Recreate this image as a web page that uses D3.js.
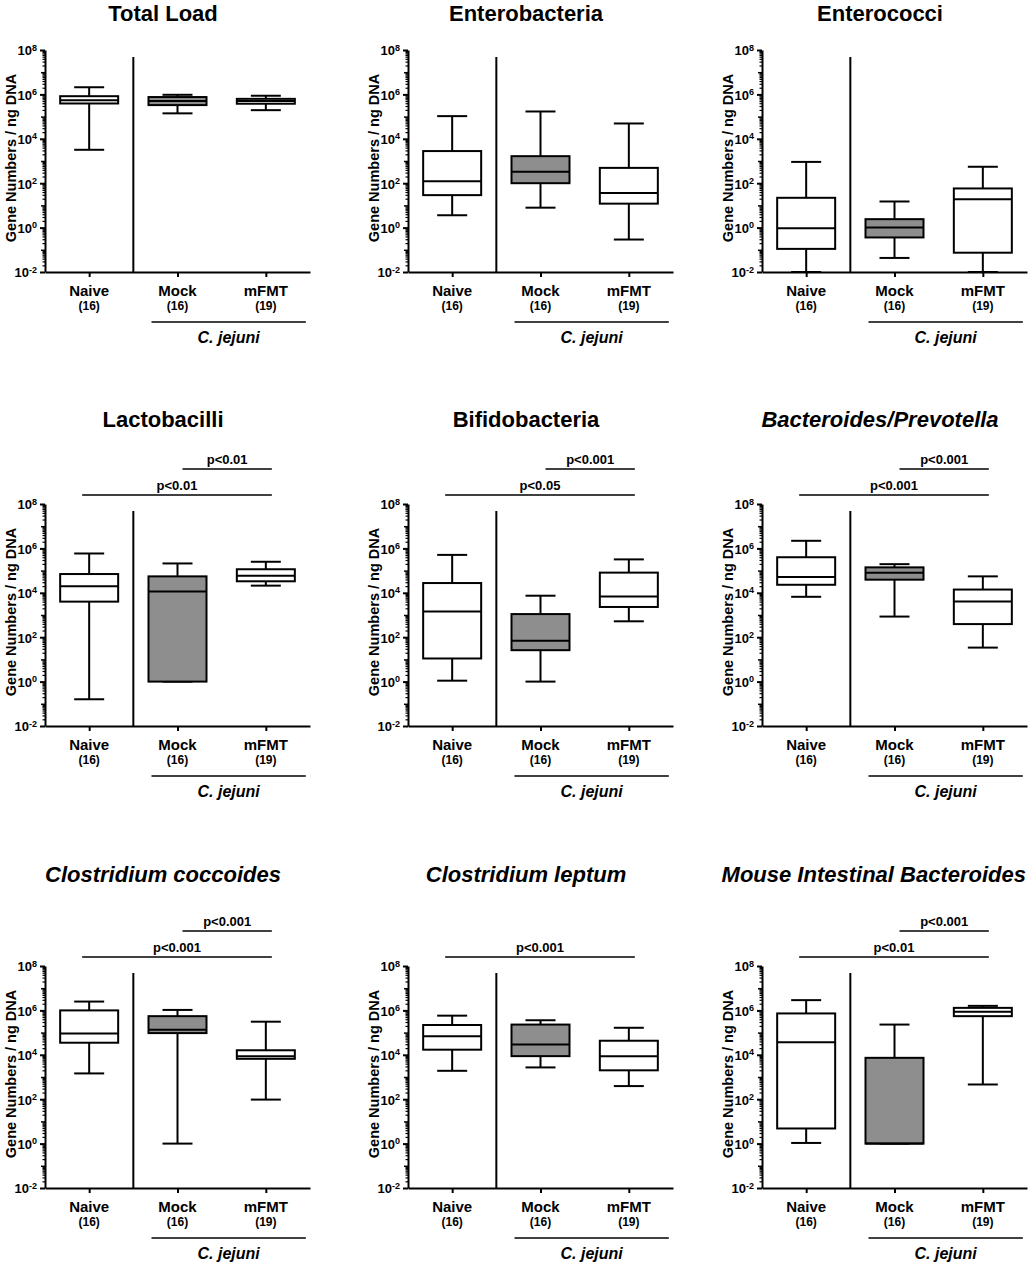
<!DOCTYPE html>
<html>
<head>
<meta charset="utf-8">
<script src="https://cdn.jsdelivr.net/npm/d3@7"></script>
<style>
  body { margin: 0; background: #fff; }
  text { font-family: "Liberation Sans", Arial, sans-serif; font-weight: bold; fill: #000; }
</style>
</head>
<body>
<div id="chart"></div>
<script>
// groups on the x axis
const groups = ["Naive", "Mock", "mFMT"];
const groupN = ["(16)", "(16)", "(19)"];

// panel titles, row by row
const titles = ["Total Load", "Enterobacteria", "Enterococci",
  "Lactobacilli", "Bifidobacteria", "Bacteroides/Prevotella",
  "Clostridium coccoides", "Clostridium leptum", "Mouse Intestinal Bacteroides"];
const italicTitles = [false, false, false, false, false, true, true, true, true];

// box stats per group: [min, q1, median, q3, max]
const totalLoad = [[3.2e3, 3.9e5, 5.5e5, 8.3e5, 2.1e6], [1.4e5, 3.3e5, 5.1e5, 7.6e5, 9.6e5], [1.95e5, 3.8e5, 5.0e5, 6.3e5, 8.7e5]];
const enterobacteria = [[3.6, 29, 123, 2.8e3, 1.05e5], [7.9, 100, 324, 1.65e3, 1.7e5], [0.29, 12, 36, 490, 4.9e4]];
const enterococci = [[0.01, 0.11, 0.93, 22, 910], [0.043, 0.36, 1.0, 2.4, 15], [0.01, 0.074, 19, 58, 550]];
const lactobacilli = [[0.16, 4.0e3, 1.95e4, 7.0e4, 5.9e5], [1, 1, 1.15e4, 5.5e4, 2.1e5], [2.1e4, 3.3e4, 5.9e4, 1.15e5, 2.5e5]];
const bifidobacteria = [[1.1, 11, 1.45e3, 2.75e4, 5.1e5], [1, 26, 70, 1.1e3, 7.4e3], [520, 2.3e3, 6.9e3, 8.1e4, 3.2e5]];
const bacteroidesPrevotella = [[6.6e3, 2.3e4, 5.1e4, 4.0e5, 2.2e6], [850, 3.9e4, 8.1e4, 1.4e5, 1.95e5], [34, 390, 4.1e3, 1.4e4, 5.5e4]];
const clostridiumCoccoides = [[1.45e3, 3.5e4, 9.1e4, 1.0e6, 2.5e6], [1, 9.5e4, 1.35e5, 5.5e5, 1.05e6], [96, 6.6e3, 8.7e3, 1.6e4, 3.1e5]];
const clostridiumLeptum = [[1.9e3, 1.7e4, 6.9e4, 2.2e5, 5.8e5], [2.7e3, 8.7e3, 2.9e4, 2.3e5, 3.6e5], [390, 2.0e3, 8.7e3, 4.3e4, 1.65e5]];
const mouseIntestinalBacteroides = [[1.07, 4.8, 3.7e4, 7.3e5, 2.9e6], [1, 1, 1, 7.3e3, 2.3e5], [460, 5.5e5, 8.7e5, 1.3e6, 1.6e6]];

const panelData = [totalLoad, enterobacteria, enterococci, lactobacilli, bifidobacteria,
  bacteroidesPrevotella, clostridiumCoccoides, clostridiumLeptum, mouseIntestinalBacteroides];

// significance bars per panel: [from, to, label, level]
const sigBars = [
  [], [], [],
  [["Mock", "mFMT", "p<0.01", 2], ["Naive", "mFMT", "p<0.01", 1]],
  [["Mock", "mFMT", "p<0.001", 2], ["Naive", "mFMT", "p<0.05", 1]],
  [["Mock", "mFMT", "p<0.001", 2], ["Naive", "mFMT", "p<0.001", 1]],
  [["Mock", "mFMT", "p<0.001", 2], ["Naive", "mFMT", "p<0.001", 1]],
  [["Naive", "mFMT", "p<0.001", 1]],
  [["Mock", "mFMT", "p<0.001", 2], ["Naive", "mFMT", "p<0.01", 1]]
];

const majorTicks = [1e-2, 1, 1e2, 1e4, 1e6, 1e8];

// layout
const width = 1030, height = 1266;
const colX = [45, 408, 762];
const rowTop = [50, 504, 966];
const titleBase = [21, 427, 882];
const plotW = 265, plotH = 222;
const boxW = 58, capW = 30;

const svg = d3.select("#chart").append("svg")
  .attr("width", width).attr("height", height)
  .style("background", "#fff");

const x = d3.scalePoint().domain(groups).range([0, plotW]).padding(0.5);
const y = d3.scaleLog().domain([1e-2, 1e8]).range([plotH, 0]).clamp(true);

// minor ticks 2..9 per decade
const minorTicks = [];
const oddTicks = [];
for (let e = -2; e < 8; e++) {
  for (let m = 2; m <= 9; m++) minorTicks.push(m * Math.pow(10, e));
  if (e % 2 !== 0) oddTicks.push(Math.pow(10, e));
}

function drawPanel(i) {
  const row = Math.floor(i / 3), col = i % 3;
  const g = svg.append("g").attr("transform", `translate(${colX[col]},${rowTop[row]})`);
  const data = panelData[i];

  // title, kept inside the page
  const title = svg.append("text")
    .attr("x", colX[col] + 118).attr("y", titleBase[row])
    .attr("text-anchor", "middle")
    .style("font-size", "22px")
    .style("font-style", italicTitles[i] ? "italic" : "normal")
    .text(titles[i]);
  const tw = title.node().getComputedTextLength();
  if (colX[col] + 118 + tw / 2 > width - 4) title.attr("x", width - 4 - tw / 2);

  // y axis: minor, odd decades, major
  g.append("g").call(d3.axisLeft(y).tickValues(minorTicks).tickSize(2.5).tickFormat(""))
    .call(a => a.select(".domain").remove())
    .selectAll("line").attr("stroke-width", 1.2);
  g.append("g").call(d3.axisLeft(y).tickValues(oddTicks).tickSize(4).tickFormat(""))
    .call(a => a.select(".domain").remove())
    .selectAll("line").attr("stroke-width", 1.5);
  const yAx = g.append("g")
    .call(d3.axisLeft(y).tickValues(majorTicks).tickSize(5).tickSizeOuter(0).tickPadding(3).tickFormat(""));
  yAx.select(".domain").attr("stroke-width", 2);
  yAx.selectAll("line").attr("stroke-width", 2);
  yAx.selectAll("text").each(function (d) {
    const t = d3.select(this).style("font-size", "13px").attr("dy", "0.38em");
    t.append("tspan").text("10");
    t.append("tspan").attr("dy", "-0.55em").style("font-size", "9px")
      .text(Math.round(Math.log10(d)));
  });

  // y label
  g.append("text")
    .attr("transform", `translate(-29,${plotH / 2 - 3}) rotate(-90)`)
    .attr("text-anchor", "middle")
    .style("font-size", "14.5px")
    .text("Gene Numbers / ng DNA");

  // x axis
  const xAx = g.append("g").attr("transform", `translate(0,${plotH})`)
    .call(d3.axisBottom(x).tickSize(5).tickSizeOuter(0).tickFormat(""));
  xAx.select(".domain").attr("stroke-width", 2);
  xAx.selectAll("line").attr("stroke-width", 2);

  // group labels
  g.selectAll(".glabel").data(groups).join("text")
    .attr("x", d => x(d)).attr("y", plotH + 24)
    .attr("text-anchor", "middle").style("font-size", "15px")
    .text(d => d);
  g.selectAll(".nlabel").data(groupN).join("text")
    .attr("x", (d, k) => x(groups[k])).attr("y", plotH + 38)
    .attr("text-anchor", "middle").style("font-size", "12px")
    .text(d => d);

  // separator between naive and infected
  const sepX = (x("Naive") + x("Mock")) / 2;
  g.append("line")
    .attr("x1", sepX).attr("x2", sepX)
    .attr("y1", 7).attr("y2", plotH)
    .attr("stroke", "#000").attr("stroke-width", 2);

  // C. jejuni bracket
  g.append("line")
    .attr("x1", x("Mock") - 26).attr("x2", x("mFMT") + 40)
    .attr("y1", plotH + 50).attr("y2", plotH + 50)
    .attr("stroke", "#000").attr("stroke-width", 1.5);
  g.append("text")
    .attr("x", (x("Mock") - 26 + x("mFMT") + 40) / 2).attr("y", plotH + 71)
    .attr("text-anchor", "middle").style("font-size", "16px").style("font-style", "italic")
    .text("C. jejuni");

  // boxes
  const boxes = g.selectAll(".box").data(data).join("g")
    .attr("transform", (d, k) => `translate(${x(groups[k])},0)`);
  boxes.append("line")
    .attr("y1", d => y(d[4])).attr("y2", d => y(d[3]))
    .attr("stroke", "#000").attr("stroke-width", 2);
  boxes.append("line")
    .attr("y1", d => y(d[1])).attr("y2", d => y(d[0]))
    .attr("stroke", "#000").attr("stroke-width", 2);
  boxes.append("line")
    .attr("x1", -capW / 2).attr("x2", capW / 2)
    .attr("y1", d => y(d[4])).attr("y2", d => y(d[4]))
    .attr("stroke", "#000").attr("stroke-width", 2);
  boxes.append("line")
    .attr("x1", -capW / 2).attr("x2", capW / 2)
    .attr("y1", d => y(d[0])).attr("y2", d => y(d[0]))
    .attr("stroke", "#000").attr("stroke-width", 2);
  boxes.append("rect")
    .attr("x", -boxW / 2).attr("width", boxW)
    .attr("y", d => y(d[3])).attr("height", d => Math.max(0, y(d[1]) - y(d[3])))
    .attr("fill", (d, k) => groups[k] === "Mock" ? "#8e8e8e" : "#fff")
    .attr("stroke", "#000").attr("stroke-width", 2);
  boxes.append("line")
    .attr("x1", -boxW / 2).attr("x2", boxW / 2)
    .attr("y1", d => y(d[2])).attr("y2", d => y(d[2]))
    .attr("stroke", "#000").attr("stroke-width", 2);

  // significance bars
  sigBars[i].forEach(([a, b, label, level]) => {
    const yy = level === 2 ? -35 : -9;
    const x1 = a === "Naive" ? x(a) - 7 : x(a) + 5;
    const x2 = x(b) + 6;
    g.append("line")
      .attr("x1", x1).attr("x2", x2).attr("y1", yy).attr("y2", yy)
      .attr("stroke", "#000").attr("stroke-width", 1.5);
    g.append("text")
      .attr("x", (x1 + x2) / 2).attr("y", yy - 5)
      .attr("text-anchor", "middle").style("font-size", "13px")
      .text(label);
  });
}

for (let i = 0; i < 9; i++) drawPanel(i);
</script>
</body>
</html>
